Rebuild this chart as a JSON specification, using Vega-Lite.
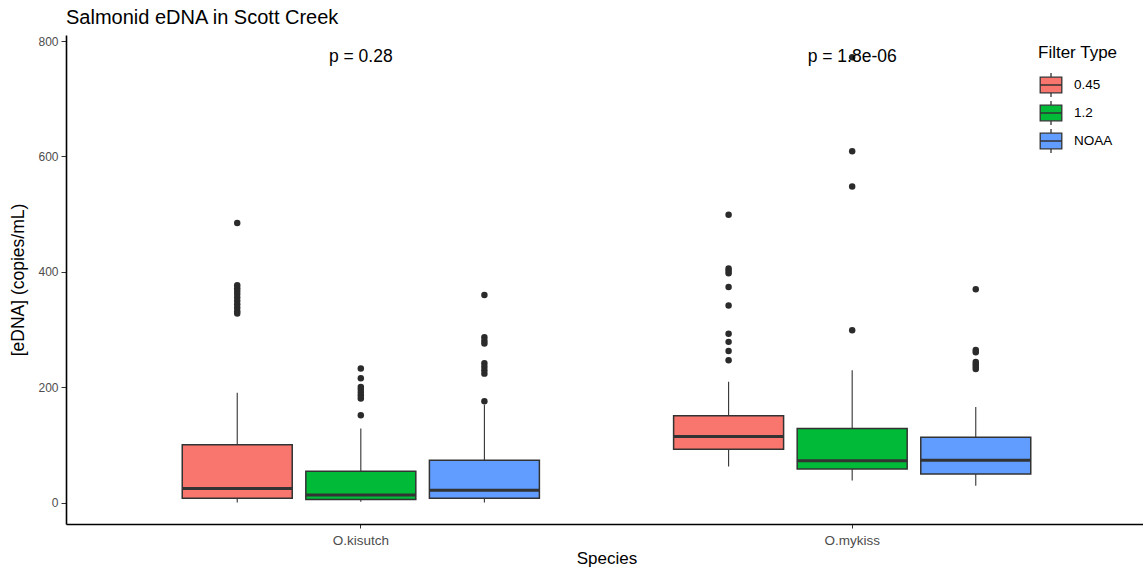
{
  "$schema": "https://vega.github.io/schema/vega-lite/v6.json",
  "width": 1081,
  "height": 489,
  "autosize": {"type": "none"},
  "padding": {"left": 66, "top": 35, "right": 0, "bottom": 45},
  "background": "white",
  "title": {"text": "Salmonid eDNA in Scott Creek", "anchor": "start", "frame": "group", "fontSize": 20, "fontWeight": "normal", "font": "Liberation Sans", "color": "black", "offset": 7},
  "config": {
    "view": {"stroke": null},
    "font": "Liberation Sans",
    "axis": {"grid": false, "domainColor": "black", "domainWidth": 1.6, "tickColor": "#333333", "tickSize": 4, "tickWidth": 1, "labelColor": "#4D4D4D", "titleColor": "black", "titleFontWeight": "normal", "labelFont": "Liberation Sans", "titleFont": "Liberation Sans"}
  },
  "datasets": {
    "boxes": [
      {"species": "O.kisutch", "filter": "0.45", "lower": 1, "q1": 8, "median": 25, "q3": 101, "upper": 191},
      {"species": "O.kisutch", "filter": "1.2", "lower": 2, "q1": 6, "median": 14, "q3": 55, "upper": 129},
      {"species": "O.kisutch", "filter": "NOAA", "lower": 1, "q1": 8, "median": 22, "q3": 74, "upper": 170},
      {"species": "O.mykiss", "filter": "0.45", "lower": 63, "q1": 93, "median": 115, "q3": 151, "upper": 210},
      {"species": "O.mykiss", "filter": "1.2", "lower": 39, "q1": 59, "median": 73, "q3": 129, "upper": 230},
      {"species": "O.mykiss", "filter": "NOAA", "lower": 30, "q1": 50, "median": 74, "q3": 114, "upper": 166}
    ],
    "outliers": [
      {"species": "O.kisutch", "filter": "0.45", "value": 485},
      {"species": "O.kisutch", "filter": "0.45", "value": 377},
      {"species": "O.kisutch", "filter": "0.45", "value": 372},
      {"species": "O.kisutch", "filter": "0.45", "value": 367},
      {"species": "O.kisutch", "filter": "0.45", "value": 362},
      {"species": "O.kisutch", "filter": "0.45", "value": 356},
      {"species": "O.kisutch", "filter": "0.45", "value": 350},
      {"species": "O.kisutch", "filter": "0.45", "value": 344},
      {"species": "O.kisutch", "filter": "0.45", "value": 338},
      {"species": "O.kisutch", "filter": "0.45", "value": 332},
      {"species": "O.kisutch", "filter": "0.45", "value": 328},
      {"species": "O.kisutch", "filter": "1.2", "value": 233},
      {"species": "O.kisutch", "filter": "1.2", "value": 216},
      {"species": "O.kisutch", "filter": "1.2", "value": 201},
      {"species": "O.kisutch", "filter": "1.2", "value": 196},
      {"species": "O.kisutch", "filter": "1.2", "value": 191},
      {"species": "O.kisutch", "filter": "1.2", "value": 186},
      {"species": "O.kisutch", "filter": "1.2", "value": 181},
      {"species": "O.kisutch", "filter": "1.2", "value": 152},
      {"species": "O.kisutch", "filter": "NOAA", "value": 360},
      {"species": "O.kisutch", "filter": "NOAA", "value": 287},
      {"species": "O.kisutch", "filter": "NOAA", "value": 281},
      {"species": "O.kisutch", "filter": "NOAA", "value": 276},
      {"species": "O.kisutch", "filter": "NOAA", "value": 242},
      {"species": "O.kisutch", "filter": "NOAA", "value": 236},
      {"species": "O.kisutch", "filter": "NOAA", "value": 230},
      {"species": "O.kisutch", "filter": "NOAA", "value": 224},
      {"species": "O.kisutch", "filter": "NOAA", "value": 176},
      {"species": "O.mykiss", "filter": "0.45", "value": 499},
      {"species": "O.mykiss", "filter": "0.45", "value": 406},
      {"species": "O.mykiss", "filter": "0.45", "value": 402},
      {"species": "O.mykiss", "filter": "0.45", "value": 398},
      {"species": "O.mykiss", "filter": "0.45", "value": 374},
      {"species": "O.mykiss", "filter": "0.45", "value": 342},
      {"species": "O.mykiss", "filter": "0.45", "value": 293},
      {"species": "O.mykiss", "filter": "0.45", "value": 279},
      {"species": "O.mykiss", "filter": "0.45", "value": 263},
      {"species": "O.mykiss", "filter": "0.45", "value": 247},
      {"species": "O.mykiss", "filter": "1.2", "value": 772},
      {"species": "O.mykiss", "filter": "1.2", "value": 609},
      {"species": "O.mykiss", "filter": "1.2", "value": 548},
      {"species": "O.mykiss", "filter": "1.2", "value": 299},
      {"species": "O.mykiss", "filter": "NOAA", "value": 370},
      {"species": "O.mykiss", "filter": "NOAA", "value": 265},
      {"species": "O.mykiss", "filter": "NOAA", "value": 261},
      {"species": "O.mykiss", "filter": "NOAA", "value": 244},
      {"species": "O.mykiss", "filter": "NOAA", "value": 240},
      {"species": "O.mykiss", "filter": "NOAA", "value": 236},
      {"species": "O.mykiss", "filter": "NOAA", "value": 232}
    ],
    "plabels": [
      {"species": "O.kisutch", "label": "p = 0.28", "value": 772},
      {"species": "O.mykiss", "label": "p = 1.8e-06", "value": 772}
    ]
  },
  "encoding": {
    "x": {"field": "species", "type": "nominal", "scale": {"domain": ["O.kisutch", "O.mykiss"], "paddingInner": 0, "paddingOuter": 0.1}, "axis": {"title": "Species", "labelAngle": 0, "labelFontSize": 13.5, "labelPadding": 5, "titleFontSize": 17, "titlePadding": 4}}
  },
  "layer": [
    {
      "data": {"name": "boxes"},
      "mark": {"type": "rule", "color": "#333333", "strokeWidth": 1.1},
      "encoding": {
        "xOffset": {"field": "filter", "type": "nominal", "scale": {"domain": ["0.45", "1.2", "NOAA"], "paddingInner": 0.11, "paddingOuter": 0.543}},
        "y": {"field": "lower", "type": "quantitative", "scale": {"domain": [-36.4, 810.4], "nice": false, "zero": false}, "axis": {"title": "[eDNA] (copies/mL)", "values": [0, 200, 400, 600, 800], "labelFontSize": 12, "labelPadding": 3, "tickSize": 5, "titleFontSize": 17.5, "titlePadding": 10}},
        "y2": {"field": "upper"}
      }
    },
    {
      "data": {"name": "boxes"},
      "mark": {"type": "bar", "stroke": "#333333", "strokeWidth": 1.5},
      "encoding": {
        "xOffset": {"field": "filter", "type": "nominal"},
        "y": {"field": "q1", "type": "quantitative"},
        "y2": {"field": "q3"},
        "fill": {"field": "filter", "type": "nominal", "scale": {"domain": ["0.45", "1.2", "NOAA"], "range": ["#F8766D", "#00BA38", "#619CFF"]},
          "legend": {"title": "Filter Type", "orient": "none", "legendX": 972, "legendY": 10, "padding": 0, "titleFontSize": 17, "titleFontWeight": "normal", "titleColor": "black", "titlePadding": 10, "labelFontSize": 13.5, "labelColor": "black", "labelOffset": 10, "rowPadding": -3, "symbolSize": 576, "symbolType": "M-0.9,-0.65H0.9V0.65H-0.9Z M-0.9,0H0.9 M0,-0.65V-1 M0,0.65V1", "symbolStrokeColor": "#333333", "symbolStrokeWidth": 1.3, "symbolOpacity": 1}}
      }
    },
    {
      "data": {"name": "boxes"},
      "mark": {"type": "tick", "color": "#333333", "thickness": 3, "size": 110, "opacity": 1},
      "encoding": {
        "xOffset": {"field": "filter", "type": "nominal"},
        "y": {"field": "median", "type": "quantitative"}
      }
    },
    {
      "data": {"name": "outliers"},
      "mark": {"type": "circle", "color": "#2b2b2b", "size": 42, "opacity": 1},
      "encoding": {
        "xOffset": {"field": "filter", "type": "nominal"},
        "y": {"field": "value", "type": "quantitative"}
      }
    },
    {
      "data": {"name": "plabels"},
      "mark": {"type": "text", "fontSize": 17.5, "color": "black", "align": "center", "baseline": "middle"},
      "encoding": {
        "y": {"field": "value", "type": "quantitative"},
        "text": {"field": "label"}
      }
    }
  ]
}
